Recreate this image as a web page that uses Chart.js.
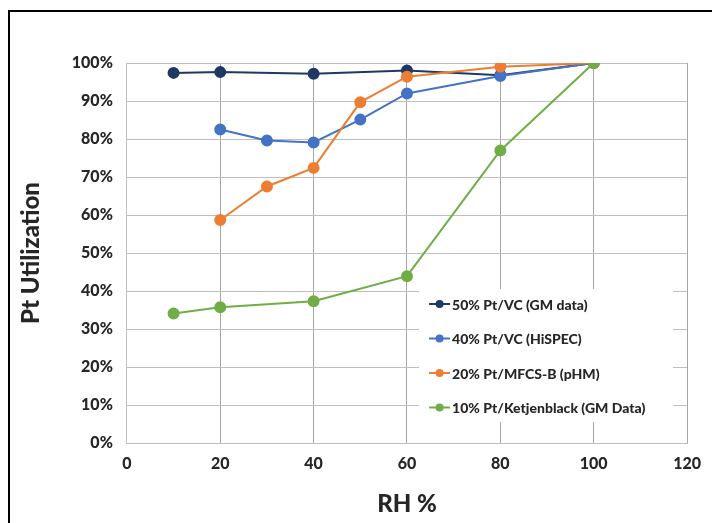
<!DOCTYPE html>
<html>
<head>
<meta charset="utf-8">
<script src="https://cdn.jsdelivr.net/npm/chart.js@4"></script>
<style>
  html, body { margin: 0; padding: 0; background: #fff; }
  #frame {
    position: absolute; left: 8px; top: 10px;
    width: 720px; height: 530px;
    border-top: 2px solid #000; border-left: 2px solid #000;
  }
  #wrap { position: absolute; left: 0; top: 0; width: 712px; height: 523px; }
</style>
</head>
<body>
<div id="frame"></div>
<div id="wrap"><canvas id="chart"></canvas></div>
<script>
// RH % values for each series
var rh50 = [10, 20, 40, 60, 80, 100];
var rh40 = [20, 30, 40, 50, 60, 80, 100];
var rh20 = [20, 30, 40, 50, 60, 80, 100];
var rh10 = [10, 20, 40, 60, 80, 100];

// Pt utilization (%)
var util50 = [97.4, 97.6, 97.2, 98.0, 96.8, 100];
var util40 = [82.5, 79.6, 79.1, 85.1, 92.0, 96.6, 100];
var util20 = [58.7, 67.5, 72.4, 89.7, 96.4, 99.0, 100];
var util10 = [34.1, 35.7, 37.3, 43.9, 77.0, 100];

var seriesLabels = [
    '50% Pt/VC (GM data)',
    '40% Pt/VC (HiSPEC)',
    '20% Pt/MFCS-B (pHM)',
    '10% Pt/Ketjenblack (GM Data)'
];
var seriesColors = ['#203864', '#4472C4', '#ED7D31', '#70AD47'];

var fontFam = 'Lato, "Open Sans", sans-serif';

function toPoints(xs, ys) {
    return xs.map(function(x, i) { return { x: x, y: ys[i] }; });
}

function makeDataset(i, xs, ys) {
    return {
        label: seriesLabels[i],
        data: toPoints(xs, ys),
        borderColor: seriesColors[i],
        backgroundColor: seriesColors[i],
        borderWidth: 2,
        pointRadius: 5,
        pointHoverRadius: 5,
        showLine: true,
        tension: 0,
        order: 3 - i // later series drawn on top, like the original
    };
}

// legend drawn inside the plot, lower right, on a white box
var insideLegend = {
    id: 'insideLegend',
    afterDraw: function(chart) {
        var ctx = chart.ctx;
        var area = chart.chartArea;
        var boxL = area.right - 268, boxT = area.bottom - 154;
        ctx.save();
        ctx.fillStyle = '#fff';
        ctx.fillRect(boxL, boxT, 254, 133);
        ctx.font = '900 14px ' + fontFam;
        ctx.textBaseline = 'middle';
        chart.data.datasets.forEach(function(ds, i) {
            var y = boxT + 15 + i * 34.5;
            var x = boxL + 10;
            ctx.strokeStyle = ds.borderColor;
            ctx.lineWidth = 2;
            ctx.beginPath();
            ctx.moveTo(x, y);
            ctx.lineTo(x + 21, y);
            ctx.stroke();
            ctx.fillStyle = ds.borderColor;
            ctx.beginPath();
            ctx.arc(x + 10.5, y, 4, 0, Math.PI * 2);
            ctx.fill();
            ctx.fillStyle = '#262626';
            ctx.fillText(ds.label, x + 23, y + 1);
        });
        ctx.restore();
    }
};

var ctx = document.getElementById('chart').getContext('2d');
var chart = new Chart(ctx, {
    type: 'scatter',
    data: {
        datasets: [
            makeDataset(0, rh50, util50),
            makeDataset(1, rh40, util40),
            makeDataset(2, rh20, util20),
            makeDataset(3, rh10, util10)
        ]
    },
    options: {
        responsive: true,
        maintainAspectRatio: false,
        animation: false,
        layout: { padding: { left: 17, right: 10, top: 63, bottom: 4 } },
        plugins: {
            legend: { display: false },
            tooltip: { enabled: false }
        },
        scales: {
            x: {
                type: 'linear',
                min: 0,
                max: 120,
                ticks: {
                    stepSize: 20,
                    color: '#262626',
                    font: { family: fontFam, size: 16, weight: '900' },
                    padding: 11
                },
                grid: { color: '#A6A6A6', drawTicks: false, lineWidth: 1 },
                border: { color: '#BFBFBF' },
                title: {
                    display: true,
                    text: 'RH %',
                    color: '#262626',
                    font: { family: fontFam, size: 24, weight: '900' },
                    padding: { top: 6, bottom: 0 }
                }
            },
            y: {
                min: 0,
                max: 100,
                ticks: {
                    stepSize: 10,
                    color: '#262626',
                    font: { family: fontFam, size: 16, weight: '900' },
                    padding: 14,
                    callback: function(v) { return v + '%'; }
                },
                grid: { color: '#BFBFBF', drawTicks: false, lineWidth: 1 },
                border: { color: '#BFBFBF' },
                title: {
                    display: true,
                    text: 'Pt Utilization',
                    color: '#262626',
                    font: { family: fontFam, size: 24, weight: '900' },
                    padding: { top: 0, bottom: 12 }
                }
            }
        }
    },
    plugins: [insideLegend]
});
</script>
</body>
</html>
